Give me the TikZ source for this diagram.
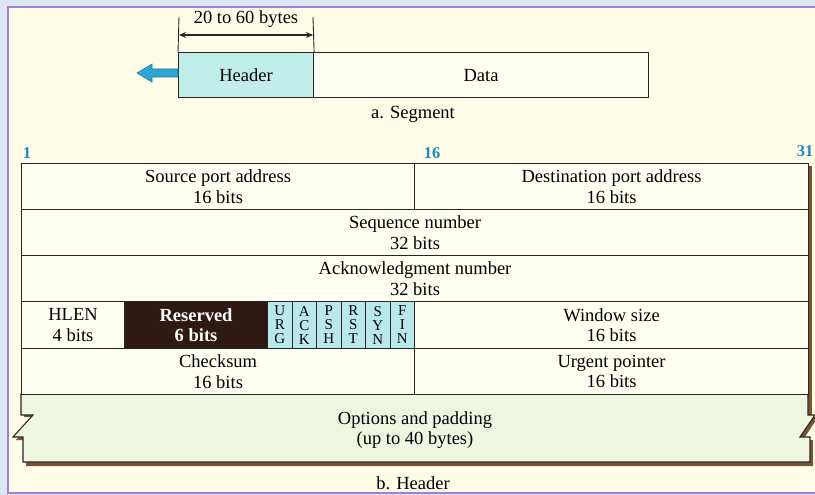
\documentclass[tikz,border=0pt]{standalone}
\usepackage{fontspec}
\setmainfont{Liberation Serif}
\usetikzlibrary{arrows.meta}
\definecolor{outerbg}{HTML}{DCE6F4}
\definecolor{panel}{HTML}{FFFDE8}
\definecolor{cellbg}{HTML}{FFFEF2}
\definecolor{frame}{HTML}{A67DD6}
\definecolor{hdrfill}{HTML}{C2EEEA}
\definecolor{resfill}{HTML}{2E1A12}
\definecolor{flagfill}{HTML}{B8E8EC}
\definecolor{optfill}{HTML}{EEF6E0}
\definecolor{shadowc}{HTML}{7A5530}
\definecolor{numblue}{HTML}{1E88C0}
\definecolor{arrowblue}{HTML}{2BA6D4}
\definecolor{linec}{HTML}{262626}
\tikzset{
  cell/.style={draw=linec, line width=1.1pt, fill=cellbg, anchor=north west,
    inner sep=0pt, align=center, font=\fontsize{18.5}{20.5}\selectfont},
  flagcell/.style={cell, fill=flagfill, font=\fontsize{15}{14}\selectfont,
    minimum width=24.5pt, minimum height=47pt},
  bitnum/.style={text=numblue, font=\bfseries\fontsize{16.5}{18}\selectfont, inner sep=0pt},
  caption/.style={font=\fontsize{18.5}{20.5}\selectfont, inner sep=0pt}
}
\begin{document}
\begin{tikzpicture}[x=1pt,y=-1pt]
\useasboundingbox (0,0) rectangle (815,495);
\fill[outerbg] (0,0) rectangle (815,495);
\draw[frame, line width=1.2pt, fill=panel] (8,7) rectangle (830,493);

% ---- a. Segment ----
\node[cell, fill=hdrfill, minimum width=135pt, minimum height=45pt] (hdr) at (178,52) {Header};
\node[cell, fill=cellbg, minimum width=335pt, minimum height=45pt] (dat) at (313,52) {Data};
\coordinate (t1) at (179,17);
\coordinate (t2) at (313,17);
\draw[linec, line width=0.9pt] (hdr.north west) -- (t1);
\draw[linec, line width=0.9pt] (hdr.north east) -- (t2);
\coordinate (d1) at (179,35);
\coordinate (d2) at (313,35);
\draw[linec, line width=1.3pt, {Stealth[length=7pt,width=6pt]}-{Stealth[length=7pt,width=6pt]}] (d1) -- (d2);
\node[caption, anchor=base] (dimlbl) at (246,24) {20 to 60 bytes};
\draw[draw=arrowblue!70!black, fill=arrowblue, line width=0.6pt]
  (178,69) -- (152,69) -- (152,64) -- (137,73) -- (152,82) -- (152,77) -- (178,77) -- cycle;
\node[caption] (segcap) at (413,114) {a. Segment};

% ---- bit numbers ----
\node[bitnum] (n1) at (27,153) {1};
\node[bitnum] (n16) at (432,153) {16};
\node[bitnum] (n31) at (805,151) {31};

% ---- shadows ----
\fill[shadowc] (808,166) rectangle (812,418);
\fill[shadowc] (24,397) -- (811,397) -- (811,417) -- (818,417) -- (803,440) -- (813,440) -- (813,466) -- (26,466) -- (26,440) -- (16,440) -- (36,417) -- (24,417) -- cycle;

% ---- options ----
\draw[linec, line width=1.1pt, fill=optfill]
  (21,394) -- (808,394) -- (808,415) -- (815,415) -- (800,437) -- (810,437) -- (810,462)
  -- (23,462) -- (23,437) -- (13,437) -- (33,415) -- (21,415) -- cycle;
\node[caption, align=center] (opt) at (415,430) {Options and padding\\(up to 40 bytes)};

% ---- header table ----
\node[cell, minimum width=393pt, minimum height=46pt] (src) at (21,163) {Source port address\\16 bits};
\node[cell, minimum width=394pt, minimum height=46pt] (dst) at (414,163) {Destination port address\\16 bits};
\node[cell, minimum width=787pt, minimum height=46pt] (seq) at (21,209) {Sequence number\\32 bits};
\node[cell, minimum width=787pt, minimum height=46pt] (ack) at (21,255) {Acknowledgment number\\32 bits};
\node[cell, minimum width=103pt, minimum height=47pt] (hlen) at (21,301) {HLEN\\4 bits};
\node[cell, fill=resfill, text=white, font=\bfseries\fontsize{18.5}{20.5}\selectfont, minimum width=143pt, minimum height=47pt] (res) at (124,301) {Reserved\\6 bits};
\node[flagcell] (urg) at (267,301) {U\\R\\G};
\node[flagcell] (ackf) at (291.5,301) {A\\C\\K};
\node[flagcell] (psh) at (316,301) {P\\S\\H};
\node[flagcell] (rst) at (340.5,301) {R\\S\\T};
\node[flagcell] (syn) at (365,301) {S\\Y\\N};
\node[flagcell] (fin) at (389.5,301) {F\\I\\N};
\node[cell, minimum width=394pt, minimum height=47pt] (win) at (414,301) {Window size\\16 bits};
\node[cell, minimum width=393pt, minimum height=46pt] (chk) at (21,348) {Checksum\\16 bits};
\node[cell, minimum width=394pt, minimum height=46pt] (urgp) at (414,348) {Urgent pointer\\16 bits};

\node[caption] (hdrcap) at (413,483) {b. Header};
\end{tikzpicture}
\end{document}
